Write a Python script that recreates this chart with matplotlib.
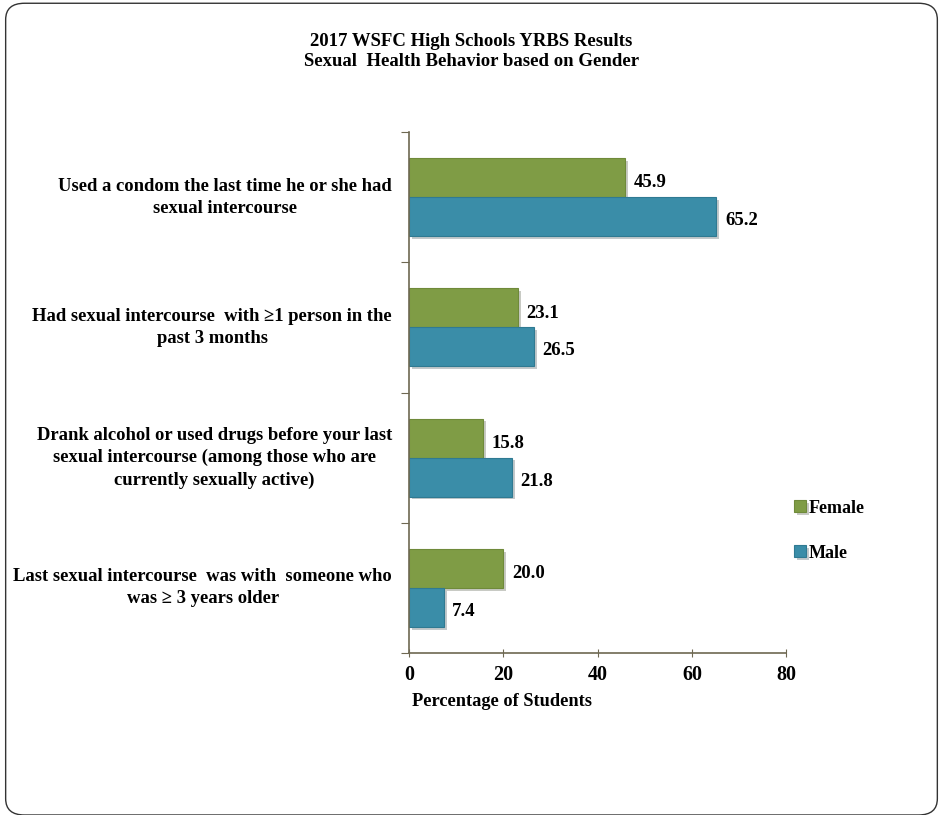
import matplotlib.pyplot as plt
import matplotlib.patheffects as pe
from matplotlib.patches import FancyBboxPatch
import numpy as np

plt.rcParams['font.family'] = ['Liberation Serif', 'DejaVu Serif']
plt.rcParams['font.weight'] = 'bold'

categories = [
    'Used a condom the last time he or she had\nsexual intercourse',
    'Had sexual intercourse  with \u22651 person in the\npast 3 months',
    'Drank alcohol or used drugs before your last\nsexual intercourse (among those who are\ncurrently sexually active)',
    'Last sexual intercourse  was with  someone who\nwas \u2265 3 years older',
]
female = [45.9, 23.1, 15.8, 20.0]
male = [65.2, 26.5, 21.8, 7.4]

FEMALE_COLOR = '#7f9c45'
MALE_COLOR = '#3a8da8'
AXIS_COLOR = '#6e6852'

fig = plt.figure(figsize=(9.43, 8.15), dpi=100)

# rounded frame around the whole chart
frame = FancyBboxPatch((0.006, 0.0), 0.988, 0.996, boxstyle='round,pad=0,rounding_size=0.02',
                       transform=fig.transFigure, facecolor='none', edgecolor='#333333', lw=1.0,
                       zorder=-1)
fig.patches.append(frame)

ax = fig.add_axes([0.4337, 0.1988, 0.4, 0.6392])
ax.set_facecolor('none')

y = np.arange(len(categories))
h = 0.3
shadow = [pe.SimplePatchShadow(offset=(2, -2), alpha=0.25), pe.Normal()]
fb = ax.barh(y - h / 2, female, height=h, color=FEMALE_COLOR, edgecolor='#6f8a3a', lw=0.8,
             label='Female', path_effects=shadow)
mb = ax.barh(y + h / 2, male, height=h, color=MALE_COLOR, edgecolor='#2f7a92', lw=0.8,
             label='Male', path_effects=shadow)

for i in range(len(categories)):
    ax.text(female[i] + 1.8, y[i] - h / 2 + 0.04, f'{female[i]:.1f}', va='center', ha='left',
            fontsize=13.5, fontweight='bold')
    ax.text(male[i] + 1.8, y[i] + h / 2 + 0.03, f'{male[i]:.1f}', va='center', ha='left',
            fontsize=13.5, fontweight='bold')

ax.set_xlim(0, 80)
ax.set_ylim(len(categories) - 0.5, -0.5)
ax.set_xticks([0, 20, 40, 60, 80])
ax.set_yticks(np.arange(len(categories) + 1) - 0.5)
ax.set_yticklabels([])
ax.tick_params(axis='y', length=6, color=AXIS_COLOR, direction='out')
ax.tick_params(axis='x', length=6, color=AXIS_COLOR, direction='inout', labelsize=14.5, pad=6)
for lab in ax.get_xticklabels():
    lab.set_fontweight('bold')

for s in ['top', 'right']:
    ax.spines[s].set_visible(False)
for s in ['left', 'bottom']:
    ax.spines[s].set_color(AXIS_COLOR)
    ax.spines[s].set_linewidth(1.2)

for i, cat in enumerate(categories):
    ax.text(-3.6, y[i], cat, ha='right', va='center', multialignment='center',
            fontsize=13.4, fontweight='bold', linespacing=1.4)

fig.text(0.5, 0.949, '2017 WSFC High Schools YRBS Results', ha='center', va='center',
         fontsize=13.5, fontweight='bold')
fig.text(0.5, 0.925, 'Sexual  Health Behavior based on Gender', ha='center', va='center',
         fontsize=13.5, fontweight='bold')
fig.text(0.532, 0.139, 'Percentage of Students', ha='center', va='center',
         fontsize=13.2, fontweight='bold')

leg = fig.legend(handles=[fb, mb], loc='center left', bbox_to_anchor=(0.825, 0.349), frameon=False,
                 handlelength=0.65, handleheight=0.65, handletextpad=0.15, labelspacing=1.55,
                 prop={'weight': 'bold', 'size': 13})

fig.savefig('out.png', dpi=100)
